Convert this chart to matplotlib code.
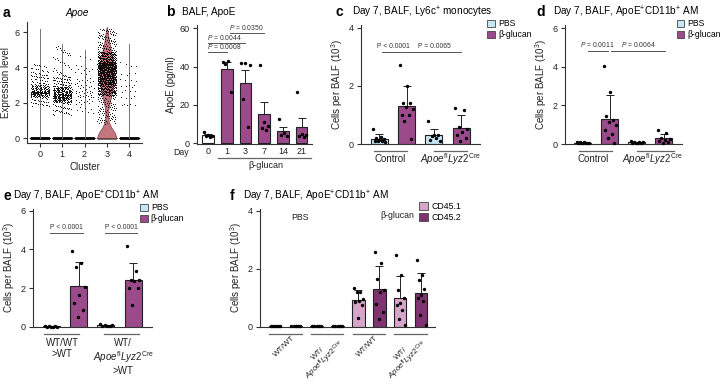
import numpy as np
import matplotlib
matplotlib.use("Agg")
import matplotlib.pyplot as plt
from matplotlib.patches import Patch

plt.rcParams['font.family'] = ['Liberation Sans', 'DejaVu Sans']
plt.rcParams['mathtext.fontset'] = 'custom'
plt.rcParams['mathtext.rm'] = 'Liberation Sans'
plt.rcParams['mathtext.it'] = 'Liberation Sans:italic'
plt.rcParams['mathtext.bf'] = 'Liberation Sans:bold'
plt.rcParams['axes.linewidth'] = 0.8

# ---- colours
PBS_C = '#c6e6f5'
BG_C = '#9b4a8b'
CD451_C = '#d6a5ca'
CD452_C = '#7f3371'
VIOLIN_C = '#c4767f'

# ---- panel a: Apoe expression per cluster (quantiles)
a_clusters = [0, 1, 2, 3, 4]
a_max_expr = [6.2, 5.3, 5.0, 6.3, 5.3]
a_n_pos = [230, 330, 70, 850, 30]
a_n_zero = [420, 420, 420, 150, 420]
a_q_prob = [0.0, 0.1, 0.25, 0.5, 0.75, 0.9, 1.0]
a_q_expr = [
    [1.8, 2.3, 2.5, 2.65, 3.0, 3.6, 4.2],
    [1.3, 2.0, 2.25, 2.5, 2.9, 3.5, 5.2],
    [1.4, 1.9, 2.3, 2.7, 3.3, 4.0, 4.7],
    [0.8, 2.4, 3.0, 3.7, 4.3, 4.9, 6.2],
    [1.8, 2.0, 2.5, 3.0, 3.6, 4.1, 5.2],
]
a_violin_lvl = [0, 0.3, 0.6, 0.9, 1.2, 1.6, 2.0, 2.5, 3.0, 3.5, 4.0, 4.5, 5.0, 5.5, 6.0, 6.3]
a_violin_hw = [0.44, 0.36, 0.2, 0.09, 0.06, 0.07, 0.13, 0.22, 0.3, 0.33, 0.32, 0.27, 0.18, 0.1, 0.05, 0.0]

# ---- panel b: BALF ApoE (pg/ml) by day
b_days = ['0', '1', '3', '7', '14', '21']
b_vals = [
    [6.2, 4.3, 4.0, 3.8, 3.2],
    [42.5, 43.0, 41.5, 27.0],
    [42.0, 42.0, 41.0, 23.0, 8.5],
    [41.0, 11.0, 9.0, 8.0, 7.0],
    [12.8, 5.5, 4.2, 4.0],
    [26.7, 5.0, 4.2, 4.0, 3.2],
]
b_pvals = [('$P$ = 0.0008', 0, 1, 47.8), ('$P$ = 0.0044', 0, 2, 52.4), ('$P$ = 0.0350', 1.15, 3, 57.4)]

# ---- panel c: Ly6c+ monocytes (10^3)
c_vals = [
    [0.53, 0.25, 0.2, 0.18, 0.15, 0.12, 0.1, 0.1, 0.07],
    [2.73, 2.0, 1.42, 1.40, 1.27, 1.22, 1.0, 1.0, 0.8, 0.17],
    [0.78, 0.3, 0.28, 0.2, 0.15, 0.12, 0.3],
    [1.23, 1.18, 0.6, 0.5, 0.4, 0.3, 0.2, 0.1],
]
c_pvals = [('P < 0.0001', 0.1, 0.97, 3.16), ('P = 0.0065', 1.03, 3.0, 3.16)]

# ---- panel d: ApoE+CD11b+ AM (10^3)
d_vals = [
    [0.12, 0.1, 0.08, 0.07, 0.06, 0.05, 0.05, 0.04, 0.03],
    [4.05, 2.7, 1.45, 1.25, 1.15, 1.0, 0.7, 0.5, 0.3, 0.05],
    [0.14, 0.12, 0.1, 0.08, 0.07, 0.06, 0.05, 0.04],
    [0.72, 0.55, 0.3, 0.25, 0.2, 0.15, 0.1, 0.05],
]
d_pvals = [('$P$ = 0.0011', 0.18, 0.93, 4.82), ('$P$ = 0.0064', 1.04, 3.06, 4.82)]

# ---- panel e: chimeras, ApoE+CD11b+ AM (10^3)
e_vals = [
    [0.03, 0.02, 0.02, 0.01, 0.01, 0.01, 0.01],
    [3.94, 3.32, 3.11, 2.07, 1.64, 1.24, 0.87, 0.52],
    [0.14, 0.09, 0.07, 0.06, 0.05, 0.04],
    [4.15, 2.9, 2.4, 2.4, 2.35, 2.0, 2.0, 1.1],
]
e_pvals = [('P < 0.0001', -0.05, 1.15, 4.87), ('P < 0.0001', 1.95, 3.15, 4.87)]

# ---- panel f: CD45.1 / CD45.2 split (10^3)
f_vals = [
    [0.02, 0.02, 0.01, 0.01, 0.01, 0.01],
    [0.02, 0.02, 0.01, 0.01, 0.01],
    [0.04, 0.03, 0.02, 0.02, 0.01],
    [0.04, 0.03, 0.03, 0.02, 0.01],
    [1.33, 1.21, 1.21, 0.95, 0.87, 0.85, 0.75, 0.29],
    [2.58, 2.2, 1.64, 1.25, 1.2, 0.8, 0.5, 0.25],
    [2.49, 1.8, 1.27, 1.0, 0.83, 0.75, 0.58, 0.27, 0.06],
    [2.29, 1.78, 1.6, 1.3, 1.1, 1.0, 0.9, 0.4, 0.06],
]

W, H = 721, 386
fig = plt.figure(figsize=(W / 100, H / 100), dpi=100)


def px_axes(l, r, t, b):
    return fig.add_axes([l / W, 1 - b / H, (r - l) / W, (b - t) / H])


def ftext(x, y, s, **kw):
    fig.text(x / W, 1 - y / H, s, **kw)


def style(ax, xticks=False):
    for s in ['top', 'right']:
        ax.spines[s].set_visible(False)
    for s in ['left', 'bottom']:
        ax.spines[s].set_color('#333333')
    ax.tick_params(axis='y', length=3, width=0.8, labelsize=6.5, pad=2, colors='#333333')
    ax.tick_params(axis='x', length=3 if xticks else 0, width=0.8, labelsize=6.5, pad=2,
                   colors='#333333')
    for lab in ax.get_xticklabels() + ax.get_yticklabels():
        lab.set_color('#222222')


def spread(n, w):
    base = np.linspace(-w, w, n)
    order = np.argsort((np.arange(n) * 0.618034) % 1)
    return base[order]


def bars(ax, pos, vals, colors, sem=False, width=0.62):
    for x, v, c in zip(pos, vals, colors):
        v = np.asarray(v)
        m = v.mean()
        err = v.std(ddof=1)
        if sem:
            err = err / np.sqrt(len(v))
        ax.bar(x, m, width=width, color=c, edgecolor='#222222', linewidth=0.8, zorder=1)
        ax.errorbar(x, m, yerr=[[0], [err]], fmt='none', ecolor='#222222', elinewidth=0.7,
                    capsize=2.8, capthick=0.7, zorder=2)
        ax.scatter(x + spread(len(v), width * 0.36), v, s=6, color='black', linewidths=0,
                   zorder=3, clip_on=False)


def brackets(ax, items, dy, ha='center'):
    for txt, x0, x1, y in items:
        ax.plot([x0, x1], [y, y], color='#555555', lw=0.7, clip_on=False)
        tx = x0 - 0.05 if ha == 'left' else (x0 + x1) / 2
        ax.text(tx, y + dy, txt, ha=ha, va='bottom', fontsize=4.9, color='#333333')


def underline(ax, x0, x1, y):
    ax.plot([x0, x1], [y, y], color='#666666', lw=0.9, clip_on=False,
            transform=ax.get_xaxis_transform())


APOE = r'$\mathit{Apoe}^{\mathrm{fl}}\mathit{Lyz2}^{\mathrm{Cre}}$'

# ================= panel a
ax = px_axes(27, 142, 22, 143)
g = 1.32471795724
for c, mx, npos, nz, q in zip(a_clusters, a_max_expr, a_n_pos, a_n_zero, a_q_expr):
    iz = np.arange(nz)
    ax.scatter(c + (((0.5 + iz / g) % 1) - 0.5) * 0.86, np.zeros(nz), s=0.9,
               color='black', linewidths=0, zorder=1)
    if c == 3:
        lvl = np.array(a_violin_lvl)
        hw = np.array(a_violin_hw)
        ax.fill_betweenx(lvl, c - hw, c + hw, color=VIOLIN_C, edgecolor='#7a3c47',
                         linewidth=0.5, zorder=2)
    else:
        ax.plot([c, c], [0, mx], color='#777777', lw=0.7, zorder=2)
    ip = np.arange(npos)
    u = (0.5 + ip / g) % 1
    v = (0.5 + ip / g ** 2) % 1
    y = np.interp(v, a_q_prob, q)
    ax.scatter(c + (u - 0.5) * 0.84, y, s=0.45, color='black', linewidths=0, zorder=3)
ax.set_xlim(-0.58, 4.58)
ax.set_ylim(-0.28, 6.57)
ax.set_xticks(a_clusters)
ax.set_yticks([0, 2, 4, 6])
style(ax, xticks=True)
ax.set_xlabel('Cluster', fontsize=7, labelpad=2, color='#222222')
ax.set_ylabel('Expression level', fontsize=7, labelpad=3, color='#222222')
ftext(3, 13, 'a', fontsize=10, fontweight='bold', va='center')
ftext(77, 13, 'Apoe', fontsize=7.2, fontstyle='italic', va='center', ha='center')

# ================= panel b
ax = px_axes(197, 312, 25, 144)
bpos = np.arange(len(b_days))
bars(ax, bpos, b_vals, ['white'] + [BG_C] * 5, sem=True)
brackets(ax, b_pvals, 0.5, ha='left')
ax.set_xlim(-0.59, 5.56)
ax.set_ylim(-0.3, 61.6)
ax.set_xticks(bpos)
ax.set_xticklabels(b_days)
ax.set_yticks([0, 20, 40, 60])
style(ax)
ax.set_ylabel('ApoE (pg/ml)', fontsize=7, labelpad=3, color='#222222')
underline(ax, 0.55, 5.5, -0.118)
ax.text(3.1, -0.178, 'β-glucan', fontsize=6.5, ha='center', va='center',
        transform=ax.get_xaxis_transform(), color='#222222')
ftext(181, 152, 'Day', fontsize=6.3, va='center', ha='center', color='#222222')
ftext(166, 12, 'b', fontsize=10, fontweight='bold', va='center')
ftext(182, 12, 'BALF, ApoE', fontsize=7.2, va='center')


def grouped(ax, vals, pvals, ylim, yticks, lines, labels, ptxt_dy, leg_xy):
    pos = np.arange(4)
    bars(ax, pos, vals, [PBS_C, BG_C, PBS_C, BG_C])
    brackets(ax, pvals, ptxt_dy)
    ax.set_xlim(-0.66, 3.68)
    ax.set_ylim(*ylim)
    ax.set_xticks([])
    ax.set_yticks(yticks)
    style(ax)
    ax.set_ylabel('Cells per BALF (10$^3$)', fontsize=7, labelpad=3, color='#222222')
    for (x0, x1) in lines[0]:
        underline(ax, x0, x1, lines[1])
    for (x, s, y, va) in labels:
        ax.text(x, y, s, ha='center', va=va, fontsize=7, linespacing=1.1,
                transform=ax.get_xaxis_transform(), color='#222222')
    ax.legend(handles=[Patch(facecolor=PBS_C, edgecolor='#444444', lw=0.6, label='PBS'),
                       Patch(facecolor=BG_C, edgecolor='#444444', lw=0.6, label='β-glucan')],
              loc='upper left', bbox_to_anchor=leg_xy, frameon=False, fontsize=6.2,
              handlelength=0.9, handleheight=0.9, handletextpad=0.35, labelspacing=0.25,
              borderaxespad=0, borderpad=0)


# ================= panel c
ax = px_axes(361, 480, 25, 144)
grouped(ax, c_vals, c_pvals, (0, 4.09), [0, 2, 4],
        ([(-0.2, 1.0), (2.0, 3.2)], -0.056),
        [(0.4, 'Control', -0.13, 'center'), (2.6, APOE, -0.13, 'center')],
        0.06, (1.06, 1.05))
ftext(335, 12, 'c', fontsize=10, fontweight='bold', va='center')
ftext(352, 12, 'Day 7, BALF, Ly6c$^{+}$ monocytes', fontsize=7.2, va='center')

# ================= panel d
ax = px_axes(565, 682, 25, 144)
grouped(ax, d_vals, d_pvals, (0, 6.16), [0, 2, 4, 6],
        ([(-0.15, 1.1), (2.0, 3.4)], -0.056),
        [(0.4, 'Control', -0.13, 'center'), (2.6, APOE, -0.13, 'center')],
        0.1, (0.955, 1.05))
ftext(536, 12, 'd', fontsize=10, fontweight='bold', va='center')
ftext(553, 12, 'Day 7, BALF, ApoE$^{+}$CD11b$^{+}$ AM', fontsize=7.2, va='center')

# ================= panel e
ax = px_axes(33, 152, 209, 326.7)
grouped(ax, e_vals, e_pvals, (0, 6.09), [0, 2, 4, 6],
        ([(-0.25, 1.03), (1.94, 3.19)], -0.062),
        [(0.4, 'WT/WT\n>WT', -0.1, 'top'), (2.63, 'WT/\n' + APOE + '\n>WT', -0.1, 'top')],
        0.1, (0.9, 1.05))
ftext(3, 196, 'e', fontsize=10, fontweight='bold', va='center')
ftext(13, 196, 'Day 7, BALF, ApoE$^{+}$CD11b$^{+}$ AM', fontsize=7.2, va='center')

# ================= panel f
ax = px_axes(260, 435, 209, 326.7)
fpos = np.arange(8)
bars(ax, fpos, f_vals, [CD451_C, CD452_C] * 4, width=0.6)
ax.set_xlim(-0.72, 7.67)
ax.set_ylim(0, 4.06)
ax.set_xticks([])
ax.set_yticks([0, 2, 4])
style(ax)
ax.set_ylabel('Cells per BALF (10$^3$)', fontsize=7, labelpad=3, color='#222222')
f_groups = ['WT/WT', 'WT/\n' + APOE, 'WT/WT', 'WT/\n' + APOE]
for k, s in enumerate(f_groups):
    gc = 2 * k + 0.5
    underline(ax, gc - 0.78, gc + 0.78, -0.062)
    ax.text(gc + 0.3, -0.06, s, rotation=45, rotation_mode='anchor', ha='right', va='top',
            ma='center', fontsize=5.8, linespacing=0.9, color='#222222',
            transform=ax.get_xaxis_transform())
ax.text(1.2, 3.78, 'PBS', fontsize=6.3, ha='center', va='center', color='#222222')
ax.text(5.85, 3.82, 'β-glucan', fontsize=6.3, ha='center', va='center', color='#222222')
ax.legend(handles=[Patch(facecolor=CD451_C, edgecolor='#444444', lw=0.6, label='CD45.1'),
                   Patch(facecolor=CD452_C, edgecolor='#444444', lw=0.6, label='CD45.2')],
          loc='upper left', bbox_to_anchor=(0.91, 1.06), frameon=False, fontsize=6.3,
          handlelength=1.0, handleheight=1.0, handletextpad=0.4, labelspacing=0.25,
          borderaxespad=0, borderpad=0)
ftext(230, 196, 'f', fontsize=10, fontweight='bold', va='center')
ftext(243, 196, 'Day 7, BALF, ApoE$^{+}$CD11b$^{+}$ AM', fontsize=7.2, va='center')

fig.savefig('out.png', dpi=100)
